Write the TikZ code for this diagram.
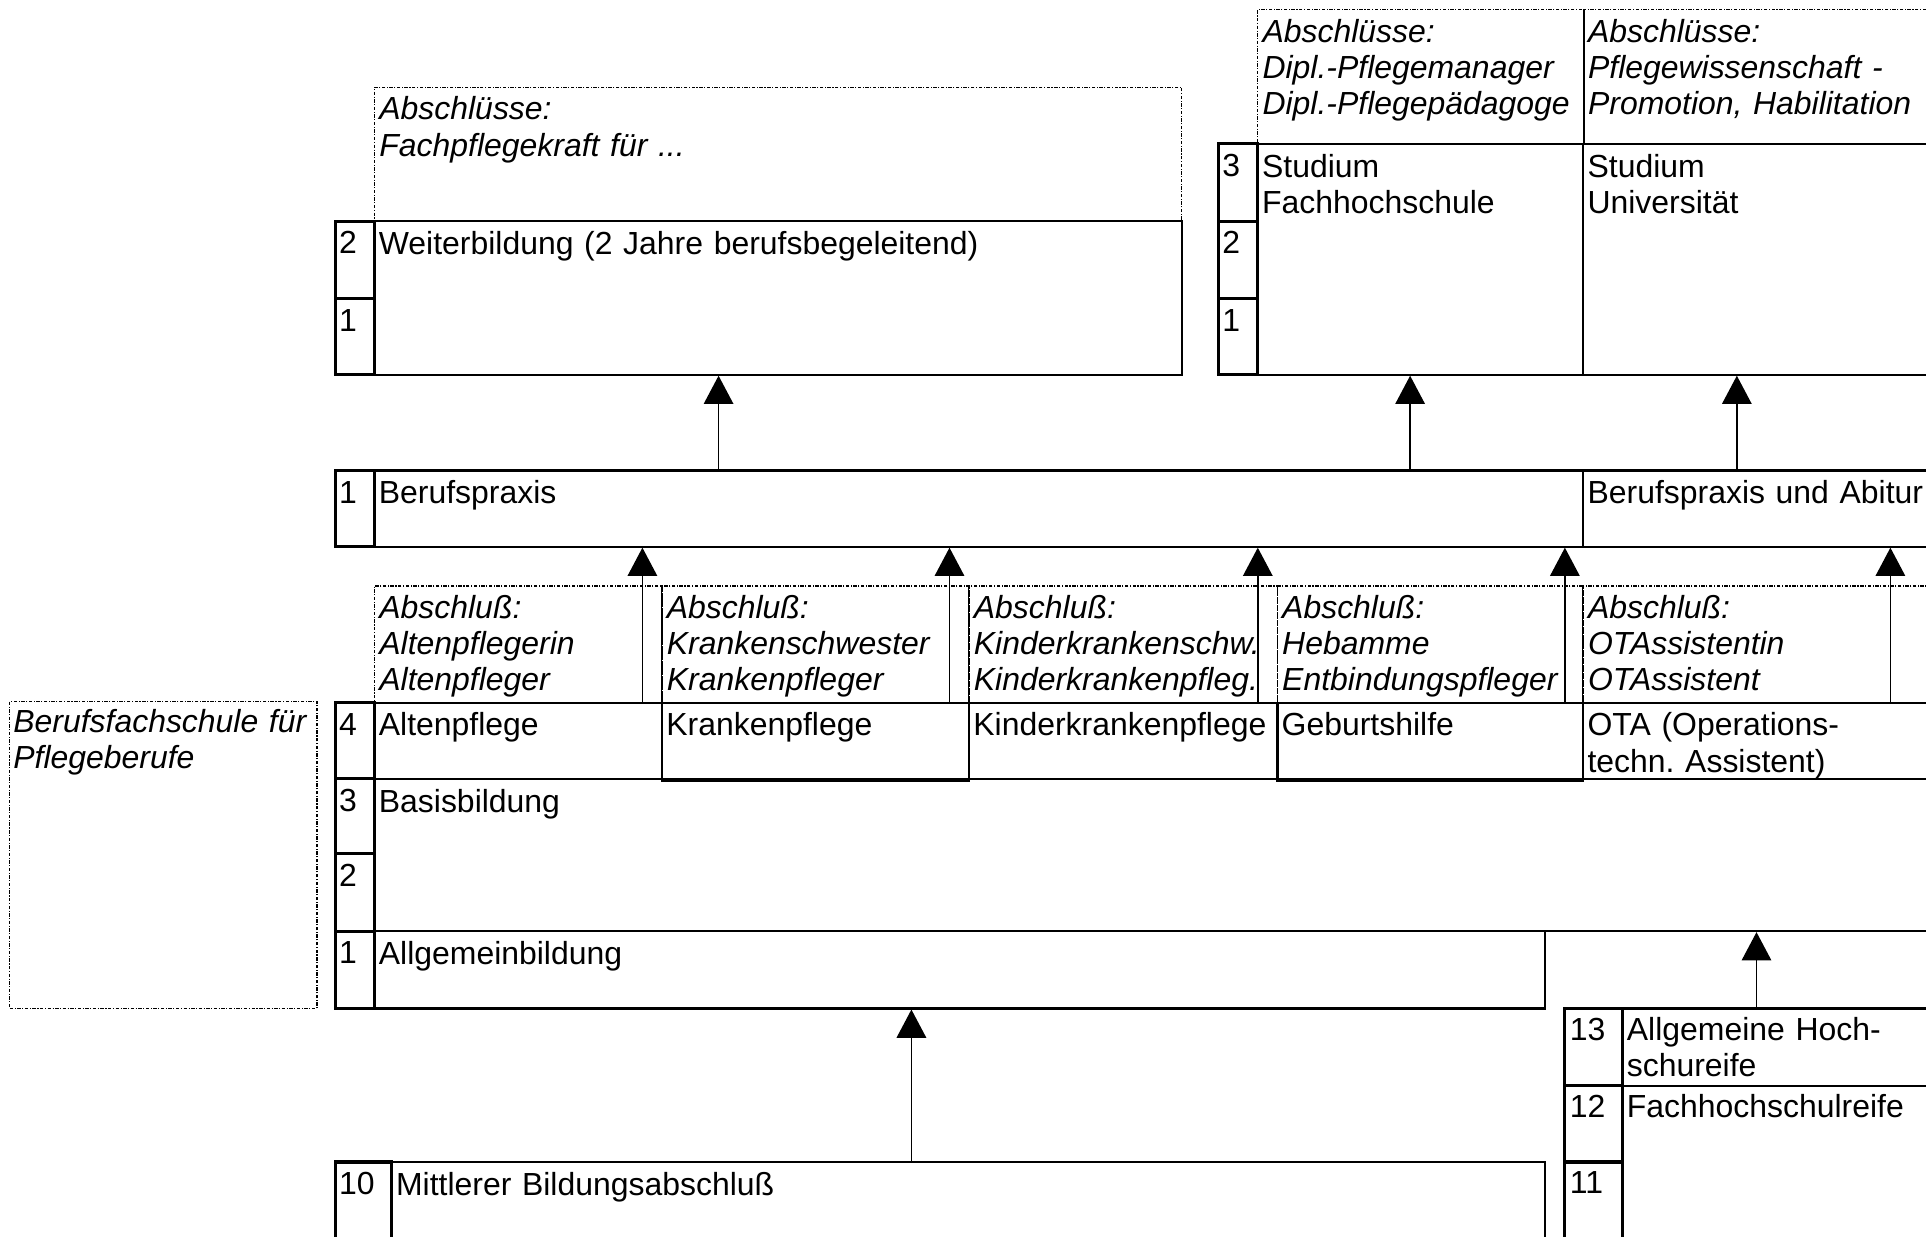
\documentclass[tikz,border=0pt]{standalone}
\usepackage{fontspec}
\setmainfont{Liberation Sans}
\usetikzlibrary{fit,arrows.meta}
\frenchspacing

\begin{document}
\begin{tikzpicture}[x=0.02cm, y=-0.02cm,
    font=\fontsize{14.8}{16.8}\selectfont,
    box/.style={draw, line width=1pt, inner sep=0pt},
    cell/.style={draw, line width=1.4pt, inner sep=0pt},
    note/.style={draw, line width=0.55pt, dash pattern=on 1.6pt off 0.7pt on 0.5pt off 0.7pt, inner sep=0pt},
    sep/.style={line width=0.7pt},
    txt/.style={anchor=base west, inner sep=0pt, text width=12cm, align=left},
    ntxt/.style={txt, font=\fontsize{14.8}{16.8}\selectfont\itshape},
    arr/.style={-{Triangle[width=0.48cm, length=0.46cm]}, line width=0.75pt}]
    \useasboundingbox (0,0) rectangle (1568,1007);
    \fill[white] (0,0) rectangle (1568,1007);
    \clip (0,0) rectangle (1568,1007);

    % Weiterbildung
    \node[note, fit={(305,71) (962,180)}] (wb-abs) {};
    \node[box, fit={(305,180) (962,305)}] (wb) {};
    \node[cell, fit={(273,180) (305,243)}] (wb-c2) {};
    \node[cell, fit={(273,243) (305,305)}] (wb-c1) {};
    \node[ntxt] (wb-abs-t) at ([shift={(4,27)}]wb-abs.north west) {Abschlüsse:\\Fachpflegekraft für ...};
    \node[txt] (wb-t) at ([shift={(4,28)}]wb.north west) {Weiterbildung (2 Jahre berufsbegeleitend)};
    \node[txt] (wb-c2-t) at ([shift={(4,28)}]wb-c2.north west) {2};
    \node[txt] (wb-c1-t) at ([shift={(4,28)}]wb-c1.north west) {1};

    % Studium Fachhochschule / Universitaet
    \node[note, fit={(1024,8) (1289,117)}] (fh-abs) {};
    \node[note, fit={(1289,8) (1580,117)}] (uni-abs) {};
    \draw[sep] (fh-abs.north east) -- (fh-abs.south east);
    \node[box, fit={(1024,117) (1289,305)}] (fh) {};
    \node[box, fit={(1289,117) (1580,305)}] (uni) {};
    \node[cell, fit={(992,117) (1024,180)}] (st-c3) {};
    \node[cell, fit={(992,180) (1024,243)}] (st-c2) {};
    \node[cell, fit={(992,243) (1024,305)}] (st-c1) {};
    \node[ntxt] (fh-abs-t) at ([shift={(4,27)}]fh-abs.north west) {Abschlüsse:\\Dipl.-Pflegemanager\\Dipl.-Pflegepädagoge};
    \node[ntxt] (uni-abs-t) at ([shift={(4,27)}]uni-abs.north west) {Abschlüsse:\\Pflegewissenschaft -\\Promotion, Habilitation};
    \node[txt] (fh-t) at ([shift={(4,28)}]fh.north west) {Studium\\Fachhochschule};
    \node[txt] (uni-t) at ([shift={(4,28)}]uni.north west) {Studium\\Universität};
    \node[txt] (st-c3-t) at ([shift={(4,28)}]st-c3.north west) {3};
    \node[txt] (st-c2-t) at ([shift={(4,28)}]st-c2.north west) {2};
    \node[txt] (st-c1-t) at ([shift={(4,28)}]st-c1.north west) {1};

    % Berufspraxis
    \node[box, fit={(305,383) (1289,445)}] (bp) {};
    \node[box, fit={(1289,383) (1580,445)}] (bpa) {};
    \node[cell, fit={(273,383) (305,445)}] (bp-c1) {};
    \node[txt] (bp-t) at ([shift={(4,28)}]bp.north west) {Berufspraxis};
    \node[txt] (bpa-t) at ([shift={(4,28)}]bpa.north west) {Berufspraxis und Abitur};
    \node[txt] (bp-c1-t) at ([shift={(4,28)}]bp-c1.north west) {1};

    % Abschluesse der Ausbildung
    \node[note, fit={(305,477) (539,572)}] (alt-abs) {};
    \node[note, fit={(539,477) (789,572)}] (kra-abs) {};
    \node[note, fit={(789,477) (1040,572)}] (kik-abs) {};
    \node[note, fit={(1040,477) (1289,572)}] (geb-abs) {};
    \node[note, fit={(1289,477) (1580,572)}] (ota-abs) {};
    \draw[sep] (kra-abs.north west) -- (kra-abs.south west);
    \draw[sep] (kik-abs.north west) -- (kik-abs.south west);
    \draw[sep] (ota-abs.north west) -- (ota-abs.south west);
    \node[ntxt] (alt-abs-t) at ([shift={(4,27)}]alt-abs.north west) {Abschluß:\\Altenpflegerin\\Altenpfleger};
    \node[ntxt] (kra-abs-t) at ([shift={(4,27)}]kra-abs.north west) {Abschluß:\\Krankenschwester\\Krankenpfleger};
    \node[ntxt] (kik-abs-t) at ([shift={(4,27)}]kik-abs.north west) {Abschluß:\\Kinderkrankenschw.\\Kinderkrankenpfleg.};
    \node[ntxt] (geb-abs-t) at ([shift={(4,27)}]geb-abs.north west) {Abschluß:\\Hebamme\\Entbindungspfleger};
    \node[ntxt] (ota-abs-t) at ([shift={(4,27)}]ota-abs.north west) {Abschluß:\\OTAssistentin\\OTAssistent};

    % Ausbildungen
    \node[box, fit={(305,572) (539,634)}] (alt) {};
    \node[box, fit={(539,572) (789,636)}] (kra) {};
    \node[box, fit={(789,572) (1040,634)}] (kik) {};
    \node[box, fit={(1040,572) (1289,636)}] (geb) {};
    \node[box, fit={(1289,572) (1580,634)}] (ota) {};
    \node[cell, fit={(273,572) (305,634)}] (au-c4) {};
    \node[txt] (alt-t) at ([shift={(4,28)}]alt.north west) {Altenpflege};
    \node[txt] (kra-t) at ([shift={(4,28)}]kra.north west) {Krankenpflege};
    \node[txt] (kik-t) at ([shift={(4,28)}]kik.north west) {Kinderkrankenpflege};
    \node[txt] (geb-t) at ([shift={(4,28)}]geb.north west) {Geburtshilfe};
    \node[txt] (ota-t) at ([shift={(4,28)}]ota.north west) {OTA (Operations-\\techn. Assistent)};
    \node[txt] (au-c4-t) at ([shift={(4,28)}]au-c4.north west) {4};

    % Basisbildung
    \node[box, fit={(305,634) (1580,758)}] (basis) {};
    \node[cell, fit={(273,634) (305,695)}] (ba-c3) {};
    \node[cell, fit={(273,695) (305,758)}] (ba-c2) {};
    \node[txt] (basis-t) at ([shift={(4,28)}]basis.north west) {Basisbildung};
    \node[txt] (ba-c3-t) at ([shift={(4,28)}]ba-c3.north west) {3};
    \node[txt] (ba-c2-t) at ([shift={(4,28)}]ba-c2.north west) {2};

    % Allgemeinbildung
    \node[box, fit={(305,758) (1258,821)}] (ag) {};
    \node[cell, fit={(273,758) (305,821)}] (ag-c1) {};
    \node[txt] (ag-t) at ([shift={(4,28)}]ag.north west) {Allgemeinbildung};
    \node[txt] (ag-c1-t) at ([shift={(4,28)}]ag-c1.north west) {1};

    % Berufsfachschule
    \node[note, fit={(8,571) (258,821)}] (bfs) {};
    \node[ntxt] (bfs-t) at ([shift={(3,26)}]bfs.north west) {Berufsfachschule für\\Pflegeberufe};

    % Hochschulreife
    \node[box, fit={(1321,821) (1580,884)}] (ahr) {};
    \node[box, fit={(1321,884) (1580,1020)}] (fhr) {};
    \node[cell, fit={(1274,821) (1321,884)}] (hr-c13) {};
    \node[cell, fit={(1274,884) (1321,946)}] (hr-c12) {};
    \node[cell, fit={(1274,946) (1321,1020)}] (hr-c11) {};
    \node[txt] (ahr-t) at ([shift={(4,27)}]ahr.north west) {Allgemeine Hoch-\\schureife};
    \node[txt] (fhr-t) at ([shift={(4,27)}]fhr.north west) {Fachhochschulreife};
    \node[txt] (hr-c13-t) at ([shift={(5,27)}]hr-c13.north west) {13};
    \node[txt] (hr-c12-t) at ([shift={(5,27)}]hr-c12.north west) {12};
    \node[txt] (hr-c11-t) at ([shift={(5,27)}]hr-c11.north west) {11};

    % Mittlerer Bildungsabschluss
    \node[box, fit={(319,946) (1258,1020)}] (mb) {};
    \node[cell, fit={(273,946) (319,1020)}] (mb-c10) {};
    \node[txt] (mb-t) at ([shift={(4,28)}]mb.north west) {Mittlerer Bildungsabschluß};
    \node[txt] (mb-c10-t) at ([shift={(4,28)}]mb-c10.north west) {10};

    % Arrows
    \coordinate (up-wb) at (585,0);
    \coordinate (up-fh) at (1148,0);
    \coordinate (up-uni) at (1414,0);
    \coordinate (up-alt) at (523,0);
    \coordinate (up-kra) at (773,0);
    \coordinate (up-kik) at (1024,0);
    \coordinate (up-geb) at (1274,0);
    \coordinate (up-ota) at (1539,0);
    \coordinate (up-ag) at (742,0);
    \coordinate (up-hr) at (1430,0);
    \draw[arr] (bp.north -| up-wb) -- (wb.south -| up-wb);
    \draw[arr] (bp.north -| up-fh) -- (fh.south -| up-fh);
    \draw[arr] (bpa.north -| up-uni) -- (uni.south -| up-uni);
    \draw[arr] (alt.north -| up-alt) -- (bp.south -| up-alt);
    \draw[arr] (kra.north -| up-kra) -- (bp.south -| up-kra);
    \draw[arr] (kik.north -| up-kik) -- (bp.south -| up-kik);
    \draw[arr] (geb.north -| up-geb) -- (bp.south -| up-geb);
    \draw[arr] (ota.north -| up-ota) -- (bpa.south -| up-ota);
    \draw[arr] (mb.north -| up-ag) -- (ag.south -| up-ag);
    \draw[arr] (ahr.north -| up-hr) -- (basis.south -| up-hr);
\end{tikzpicture}
\end{document}
